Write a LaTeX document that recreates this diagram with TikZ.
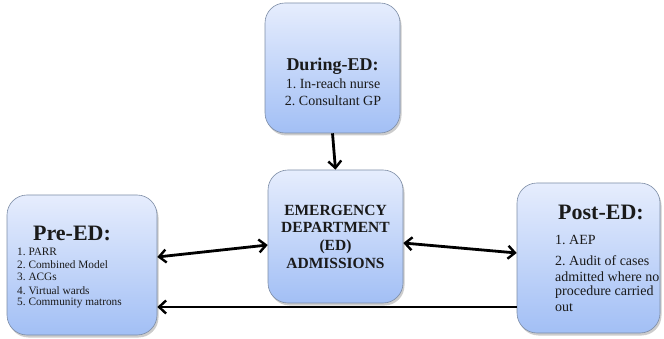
\documentclass[tikz,border=0pt]{standalone}
\usepackage{fontspec}
\setmainfont{Liberation Serif}
\frenchspacing
\usetikzlibrary{arrows.meta,shadows}
\definecolor{boxtop}{HTML}{E6EDFD}
\definecolor{boxbot}{HTML}{A2BFF5}
\definecolor{boxline}{HTML}{7D8DA6}
\definecolor{txt}{HTML}{1A1A1A}
\tikzset{
  box/.style={draw=boxline, line width=0.6pt, rounded corners=20pt, top color=boxtop, bottom color=boxbot,
    drop shadow={opacity=0.4, shadow xshift=1.5pt, shadow yshift=-2.5pt}},
  tip/.tip={Straight Barb[length=7pt,width=13pt,line width=2.4pt]},
  conn/.style={line width=2.8pt, black, arrows={-tip}},
  dconn/.style={line width=2.8pt, black, arrows={tip-tip}},
  head/.style={font=\bfseries, inner sep=0pt, text=txt},
  item/.style={anchor=west, inner sep=0pt, text=txt}
}
\begin{document}
\begin{tikzpicture}[x=1pt,y=-1pt]
\useasboundingbox (0,0) rectangle (664,339);
\node[box, minimum width=150pt, minimum height=140pt] (pre) at (82,265) {};
\node[box, minimum width=143pt, minimum height=150pt] (post) at (588.5,258) {};
\node[box, minimum width=135pt, minimum height=130pt] (during) at (332.5,68) {};
\node[box, minimum width=135pt, minimum height=133pt] (ed) at (335.5,236.5) {};
% Pre-ED
\node[head, font=\fontsize{22}{24}\selectfont\bfseries] (preh) at (72,233) {Pre-ED:};
\begin{scope}[every node/.style={item, font=\fontsize{11.3}{12}\selectfont}]
\node (p1) at (17,252) {1. PARR};
\node (p2) at (17,265) {2. Combined Model};
\node (p3) at (17,277) {3. ACGs};
\node (p4) at (17,291) {4. Virtual wards};
\node (p5) at (17,303) {5. Community matrons};
\end{scope}
% Post-ED
\node[head, font=\fontsize{22}{24}\selectfont\bfseries] (posth) at (601,212) {Post-ED:};
\begin{scope}[every node/.style={item, font=\fontsize{14}{15}\selectfont}]
\node (q1) at (555,240) {1. AEP};
\node (q2) at (555,261) {2. Audit of cases};
\node (q3) at (555,277) {admitted where no};
\node (q4) at (555,292) {procedure carried};
\node (q5) at (555,308) {out};
\end{scope}
% During-ED
\node[head, font=\fontsize{18}{20}\selectfont\bfseries] (durh) at (332.5,66) {During-ED:};
\begin{scope}[every node/.style={inner sep=0pt, text=txt, font=\fontsize{14}{15}\selectfont}]
\node (d1) at (333,84) {1. In-reach nurse};
\node (d2) at (333,101) {2. Consultant GP};
\end{scope}
% ED
\node[inner sep=0pt, align=center, text=txt, font=\fontsize{15.5}{17.7}\selectfont\bfseries] (edt) at (335.5,236.5) {EMERGENCY\\DEPARTMENT\\(ED)\\ADMISSIONS};
% connectors
\coordinate (bl) at (0,307);
\draw[conn] (during.south) -- (ed.north);
\draw[dconn] ([yshift=8pt]pre.east) -- ([yshift=-8.5pt]ed.west);
\draw[dconn] ([yshift=-6.5pt]ed.east) -- ([yshift=5pt]post.west);
\draw[conn] (post.west |- bl) -- (pre.east |- bl);
\end{tikzpicture}
\end{document}
